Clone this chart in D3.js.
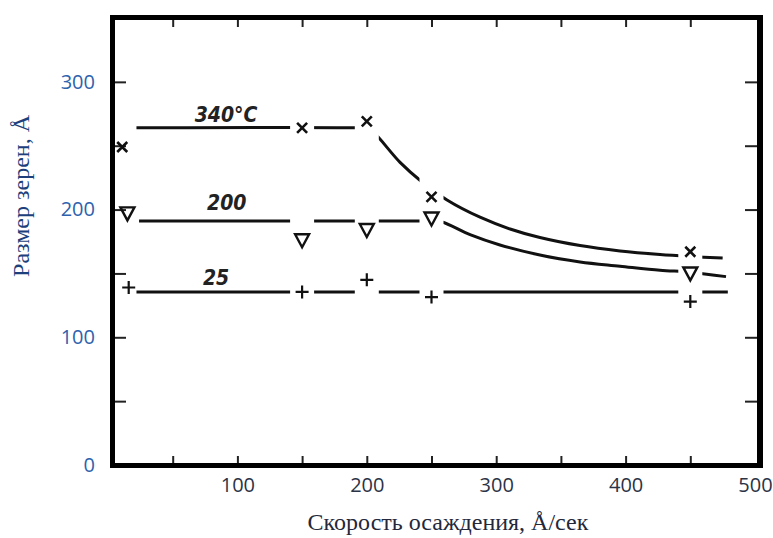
<!DOCTYPE html>
<html>
<head>
<meta charset="utf-8">
<script src="https://cdn.jsdelivr.net/npm/d3@7"></script>
<style>
  html, body { margin: 0; padding: 0; background: #fff; }
  svg { display: block; }
</style>
</head>
<body>
<div id="chart"></div>
<script>
// measured points (speed, Å/sec -> grain size, Å)
const speeds340 = [11, 150, 200, 250, 450];
const size340   = [249, 264, 269, 210, 167];
const speeds200 = [15, 150, 200, 250, 450];
const size200   = [197, 176, 184, 193, 150];
const speeds25  = [16, 150, 200, 250, 450];
const size25    = [139, 135.5, 145, 131.5, 128];

// hand-drawn trend lines through the points
const fit340 = [[22, 264], [190, 264], [200, 263.5], [205.6, 260], [225.7, 237], [242.7, 221.6], [262, 207.5],
                [287.5, 194], [310.7, 184.8], [333.8, 178.1], [364.8, 171.8], [395.7, 167.6],
                [426.6, 164.8], [449.8, 163.3], [475, 162]];
const fit200 = [[24, 191], [240, 191], [250, 191], [258.1, 190.3], [279.8, 180.4], [302.9, 172.3], [333.8, 164.4],
                [364.8, 159], [395.7, 155.7], [426.6, 152.5], [449.8, 151], [477.6, 147.5]];
const fit25  = [[22, 135.5], [479, 135.5]];

// the trend lines are broken where the markers sit
const gapSpeeds = [150, 200, 250, 450];

const curveNames = ['340°C', '200', '25'];
const nameSpeed  = [67, 76.5, 73.4];
const nameSize   = [268.6, 199.7, 141];

const xTicks  = [50, 100, 150, 200, 250, 300, 350, 400, 450];
const yTicks  = [50, 100, 150, 200, 250, 300];
const xLabels = [100, 200, 300, 400, 500];
const yLabels = [0, 100, 200, 300];

const xTitle = 'Скорость осаждения, Å/сек';
const yTitle = 'Размер зерен, Å';

const W = 773, H = 538;
const box = { left: 110, right: 763, top: 15, bottom: 468, t: 5 };

const svg = d3.select('#chart').append('svg').attr('width', W).attr('height', H);

const x = d3.scaleLinear().domain([0, 500]).range([108, 755]);
const y = d3.scaleLinear().domain([0, 350]).range([465, 18]);

// gaps mask
const defs = svg.append('defs');
const mask = defs.append('mask').attr('id', 'gaps').attr('maskUnits', 'userSpaceOnUse')
  .attr('x', 0).attr('y', 0).attr('width', W).attr('height', H);
mask.append('rect').attr('width', W).attr('height', H).attr('fill', '#fff');
mask.selectAll('rect.g').data(gapSpeeds).join('rect').attr('class', 'g')
  .attr('x', d => x(d) - 12).attr('y', 0).attr('width', 24).attr('height', H).attr('fill', '#000');

// inner ticks
const tickStyle = g => {
  g.select('.domain').remove();
  g.selectAll('.tick line').attr('stroke', '#222').attr('stroke-width', 2);
};
svg.append('g').attr('transform', `translate(0,${box.bottom - box.t})`)
  .call(d3.axisBottom(x).tickValues(xTicks).tickSize(-7).tickFormat('')).call(tickStyle);
svg.append('g').attr('transform', `translate(0,${box.top + box.t})`)
  .call(d3.axisTop(x).tickValues(xTicks).tickSize(-7).tickFormat('')).call(tickStyle);
svg.append('g').attr('transform', `translate(${box.left + box.t},0)`)
  .call(d3.axisLeft(y).tickValues(yTicks).tickSize(-11).tickFormat('')).call(tickStyle);
svg.append('g').attr('transform', `translate(${box.right - box.t - 1},0)`)
  .call(d3.axisRight(y).tickValues(yTicks).tickSize(-12).tickFormat('')).call(tickStyle);

// thick frame
const frame = svg.append('g').attr('fill', '#000');
frame.append('rect').attr('x', box.left).attr('y', box.top).attr('width', box.right - box.left).attr('height', box.t);
frame.append('rect').attr('x', box.left).attr('y', box.bottom - box.t).attr('width', box.right - box.left).attr('height', box.t);
frame.append('rect').attr('x', box.left).attr('y', box.top).attr('width', box.t).attr('height', box.bottom - box.top);
frame.append('rect').attr('x', box.right - box.t - 1).attr('y', box.top).attr('width', box.t + 1).attr('height', box.bottom - box.top);

// tick labels
svg.append('g').attr('transform', `translate(0,${box.bottom})`)
  .call(d3.axisBottom(x).tickValues(xLabels).tickSize(0).tickPadding(10))
  .call(g => {
    g.select('.domain').remove();
    g.selectAll('text').attr('font-family', '"Open Sans", sans-serif')
      .attr('font-size', 20).attr('fill', '#2b3346');
  });
svg.append('g').attr('transform', `translate(${box.left},0)`)
  .call(d3.axisLeft(y).tickValues(yLabels).tickSize(0).tickPadding(15))
  .call(g => {
    g.select('.domain').remove();
    g.selectAll('text').attr('font-family', '"Open Sans", sans-serif')
      .attr('font-size', 20).attr('fill', '#2d62ad');
  });

// axis titles
svg.append('text')
  .attr('x', 448).attr('y', 530).attr('text-anchor', 'middle')
  .attr('font-family', '"Liberation Serif", serif').attr('font-size', 24)
  .attr('fill', '#24283a').text(xTitle);
svg.append('text')
  .attr('transform', 'translate(29,196) rotate(-90)').attr('text-anchor', 'middle')
  .attr('font-family', '"Liberation Serif", serif').attr('font-size', 24)
  .attr('fill', '#1d3f7c').text(yTitle);

// trend lines
const line = d3.line().x(d => x(d[0])).y(d => y(d[1])).curve(d3.curveCatmullRom.alpha(0.5));
svg.append('g').attr('mask', 'url(#gaps)')
  .selectAll('path').data([fit340, fit200, fit25]).join('path')
  .attr('d', line).attr('fill', 'none').attr('stroke', '#111')
  .attr('stroke-width', 3).attr('stroke-linecap', 'butt');

// curve names
svg.append('g').selectAll('text').data(curveNames).join('text')
  .attr('x', (d, i) => x(nameSpeed[i])).attr('y', (d, i) => y(nameSize[i]))
  .attr('font-family', '"Liberation Sans Narrow", "DejaVu Sans Condensed", "Liberation Sans", sans-serif')
  .attr('font-style', 'italic').attr('font-weight', 'bold').attr('font-size', 21)
  .attr('fill', '#222').text(d => d);

// markers
const shapes = {
  times: 'M-5,-5L5,5M-5,5L5,-5',
  tri: 'M-7,-6H7L0,7Z',
  plus: 'M-6.5,0H6.5M0,-6.5V6.5'
};
const series = [
  { sx: speeds340, sy: size340, shape: shapes.times, sw: 2.6 },
  { sx: speeds200, sy: size200, shape: shapes.tri, sw: 2.4 },
  { sx: speeds25,  sy: size25,  shape: shapes.plus, sw: 2.2 }
];
series.forEach(s => {
  svg.append('g').selectAll('path').data(s.sx).join('path')
    .attr('transform', (d, i) => `translate(${x(d)},${y(s.sy[i])})`)
    .attr('d', s.shape).attr('fill', 'none').attr('stroke', '#111')
    .attr('stroke-width', s.sw).attr('stroke-linejoin', 'miter');
});
</script>
</body>
</html>
